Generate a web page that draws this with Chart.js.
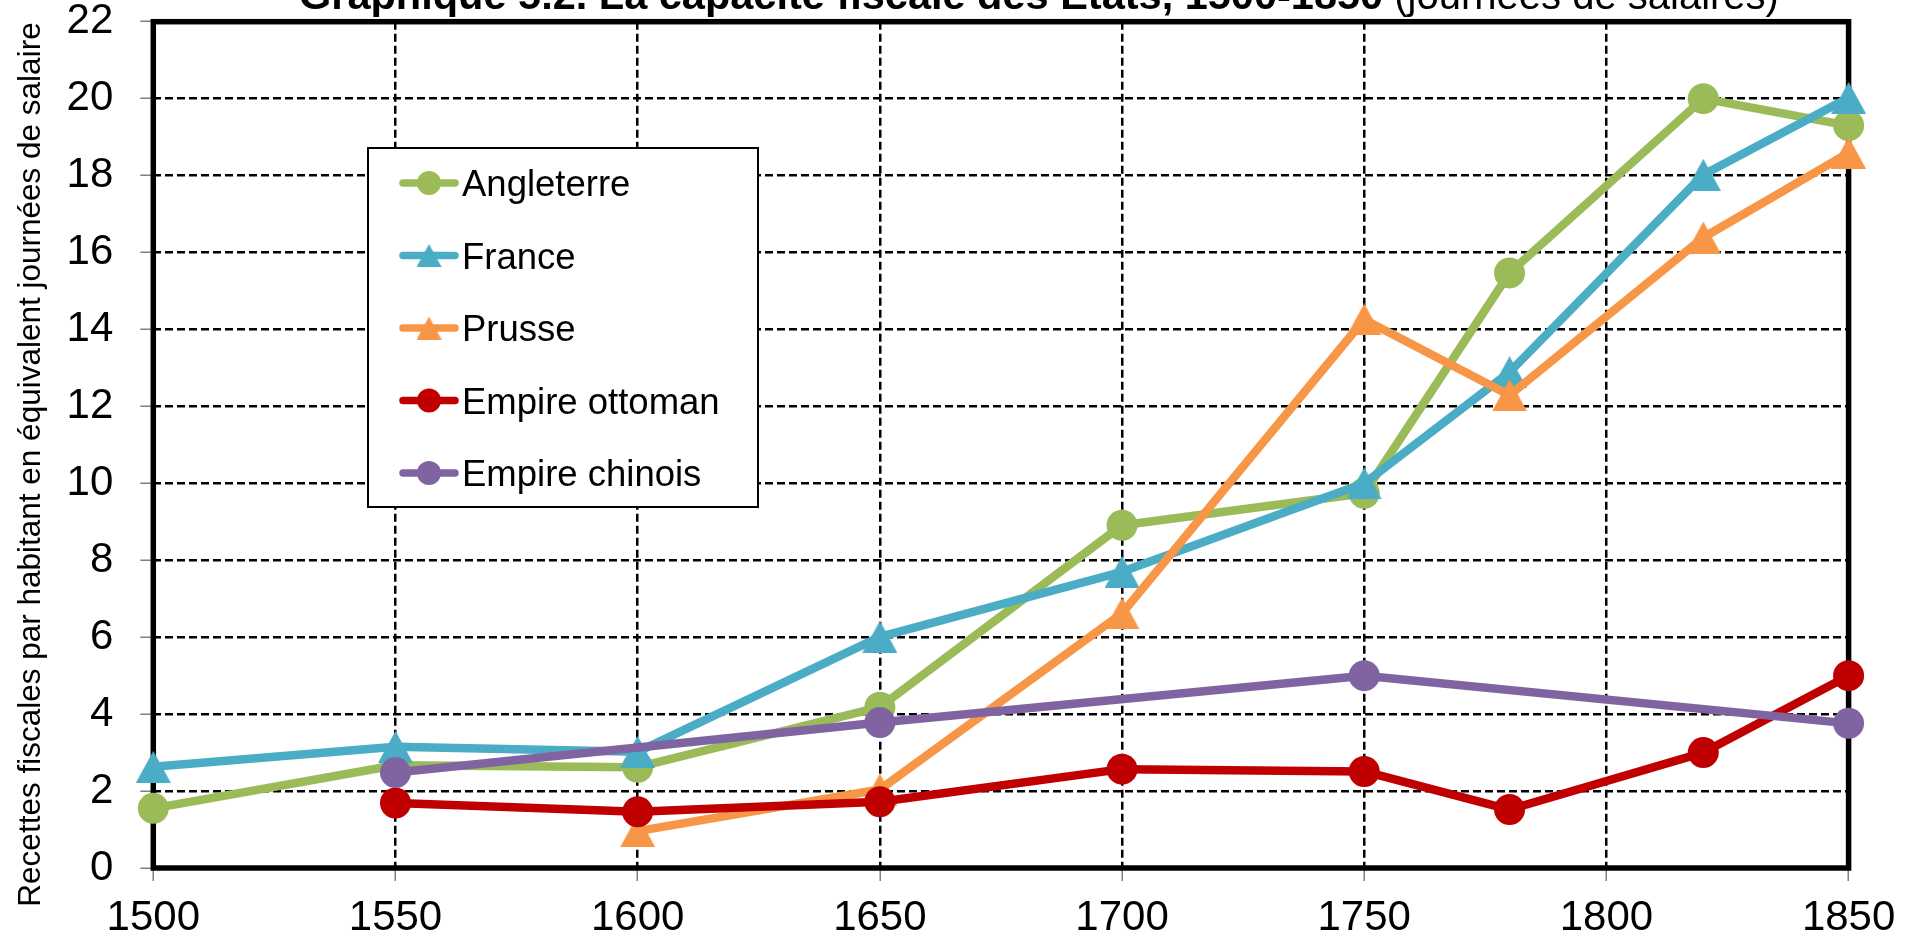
<!DOCTYPE html>
<html lang="fr">
<head>
<meta charset="UTF-8">
<title>Graphique 5.2</title>
<script src="https://cdn.jsdelivr.net/npm/chart.js@4.4.1/dist/chart.umd.min.js"></script>
<style>
  html, body { margin: 0; padding: 0; background: #fff; }
  canvas { display: block; }
</style>
</head>
<body>
<canvas id="chart" width="1917" height="939"></canvas>
<script>
// valeurs (null = pas de point)
const years = [1500, 1550, 1600, 1650, 1700, 1750, 1780, 1820, 1850];
const angleterre = [1.55, 2.67, 2.62, 4.18, 8.91, 9.74, 15.47, 20.0, 19.30];
const france = [2.63, 3.15, 3.02, 6.01, 7.70, 10.0, 12.89, 18.02, 20.02];
const prusse = [null, null, 0.96, 2.04, 6.62, 14.26, 12.29, 16.39, 18.59];
const ottoman = [null, 1.69, 1.46, 1.72, 2.57, 2.51, 1.52, 3.0, 5.0];
const chinois = [null, 2.48, null, 3.78, null, 5.0, null, null, 3.76];

const seriesNames = ['Angleterre', 'France', 'Prusse', 'Empire ottoman', 'Empire chinois'];
const xTicks = [1500, 1550, 1600, 1650, 1700, 1750, 1800, 1850];
const yTicks = [0, 2, 4, 6, 8, 10, 12, 14, 16, 18, 20, 22];

const titleBold = 'Graphique 5.2. La capacité fiscale des États, 1500-1850';
const titleNormal = ' (journées de salaires)';
const yTitle = 'Recettes fiscales par habitant en équivalent journées de salaire';

const FONT = '"Liberation Sans", Arial, sans-serif';
const colors = ['#9BBB59', '#4BACC6', '#F79646', '#C00000', '#8064A2'];
const markers = ['circle', 'triangle', 'triangle', 'circle', 'circle'];

// triangle centré dans sa boîte, comme Excel
function makeTriangle(color, w, h) {
    const c = document.createElement('canvas');
    c.width = w;
    c.height = h;
    const g = c.getContext('2d');
    g.fillStyle = color;
    g.beginPath();
    g.moveTo(w / 2, 0);
    g.lineTo(w, h);
    g.lineTo(0, h);
    g.closePath();
    g.fill();
    return c;
}

function toPoints(values) {
    const pts = [];
    values.forEach((v, i) => {
        if (v !== null) pts.push({x: years[i], y: v});
    });
    return pts;
}

function buildDatasets() {
    const all = [angleterre, france, prusse, ottoman, chinois];
    return all.map((values, i) => {
        const tri = markers[i] === 'triangle';
        return {
            label: seriesNames[i],
            data: toPoints(values),
            borderColor: colors[i],
            backgroundColor: colors[i],
            borderWidth: 8.5,
            borderCapStyle: 'round',
            borderJoinStyle: 'round',
            pointStyle: tri ? makeTriangle(colors[i], 35, 32) : 'circle',
            legendMarker: tri ? makeTriangle(colors[i], 25, 23) : null,
            pointRadius: tri ? 17 : 15.5,
            pointBorderWidth: 0,
            tension: 0,
            clip: false,
            order: all.length - i   // la dernière série passe au-dessus
        };
    });
}

// cadre noir autour de la zone de tracé
const frame = {
    id: 'frame',
    beforeDatasetsDraw(chart) {
        const a = chart.chartArea;
        const ctx = chart.ctx;
        ctx.save();
        ctx.strokeStyle = '#000';
        ctx.lineWidth = 5.5;
        ctx.strokeRect(a.left, a.top, a.right - a.left, a.bottom - a.top);
        ctx.restore();
    }
};

// légende encadrée dans le graphique
const legendBox = {
    id: 'legendBox',
    afterDatasetsDraw(chart) {
        const ctx = chart.ctx;
        ctx.save();
        ctx.fillStyle = '#fff';
        ctx.fillRect(368, 148, 390, 359);
        ctx.strokeStyle = '#000';
        ctx.lineWidth = 2;
        ctx.strokeRect(368, 148, 390, 359);
        chart.data.datasets.forEach((ds, i) => {
            const y = 183 + i * 72.5;
            ctx.strokeStyle = ds.borderColor;
            ctx.lineWidth = 7.5;
            ctx.lineCap = 'round';
            ctx.beginPath();
            ctx.moveTo(403, y);
            ctx.lineTo(455, y);
            ctx.stroke();
            if (ds.legendMarker) {
                const m = ds.legendMarker;
                ctx.drawImage(m, 429 - m.width / 2, y - m.height / 2);
            } else {
                ctx.fillStyle = ds.backgroundColor;
                ctx.beginPath();
                ctx.arc(429, y, 12, 0, Math.PI * 2);
                ctx.fill();
            }
            ctx.fillStyle = '#000';
            ctx.font = '36.5px ' + FONT;
            ctx.textBaseline = 'alphabetic';
            ctx.textAlign = 'left';
            ctx.fillText(ds.label, 462, y + 13);
        });
        ctx.restore();
    }
};

// titre (coupé en haut) et titre de l'axe vertical
const texts = {
    id: 'texts',
    afterDraw(chart) {
        const ctx = chart.ctx;
        ctx.save();
        ctx.fillStyle = '#000';
        ctx.textBaseline = 'alphabetic';
        ctx.textAlign = 'left';
        ctx.font = 'bold 41.5px ' + FONT;
        ctx.fillText(titleBold, 299, 9);
        const w = ctx.measureText(titleBold).width;
        ctx.font = '40px ' + FONT;
        ctx.fillText(titleNormal, 299 + w, 9);

        ctx.translate(40, 464.5);
        ctx.rotate(-Math.PI / 2);
        ctx.textAlign = 'center';
        ctx.font = '31.5px ' + FONT;
        ctx.fillText(yTitle, 0, 0);
        ctx.restore();
    }
};

function drawChart() {
    const ctx = document.getElementById('chart').getContext('2d');
    new Chart(ctx, {
        type: 'line',
        data: {datasets: buildDatasets()},
        options: {
            responsive: false,
            animation: false,
            layout: {padding: {left: 0, top: 21.7, right: 68.4, bottom: 0}},
            plugins: {
                legend: {display: false},
                tooltip: {enabled: false}
            },
            scales: {
                x: {
                    type: 'linear',
                    min: 1500,
                    max: 1850,
                    afterBuildTicks: s => { s.ticks = xTicks.map(v => ({value: v})); },
                    afterFit: s => {
                        s.height = 939 - 868;
                        s.paddingLeft = 0;
                        s.paddingRight = 0;
                    },
                    ticks: {
                        color: '#000',
                        font: {family: FONT, size: 42},
                        padding: 12,
                        maxRotation: 0,
                        callback: v => String(v)
                    },
                    grid: {
                        color: '#000',
                        lineWidth: 2.5,
                        tickColor: '#808080',
                        tickWidth: 1.5,
                        tickLength: 13
                    },
                    border: {display: false, dash: [8, 4]}
                },
                y: {
                    min: 0,
                    max: 22,
                    afterBuildTicks: s => { s.ticks = yTicks.map(v => ({value: v})); },
                    afterFit: s => {
                        s.width = 153.3;
                        s.paddingTop = 0;
                        s.paddingBottom = 0;
                    },
                    ticks: {
                        color: '#000',
                        font: {family: FONT, size: 42},
                        padding: 27
                    },
                    grid: {
                        color: '#000',
                        lineWidth: 2.5,
                        tickColor: '#808080',
                        tickWidth: 1.5,
                        tickLength: 13
                    },
                    border: {display: false, dash: [8, 4]}
                }
            }
        },
        plugins: [frame, legendBox, texts]
    });
}

window.onload = function () {
    drawChart();
}
</script>
</body>
</html>
